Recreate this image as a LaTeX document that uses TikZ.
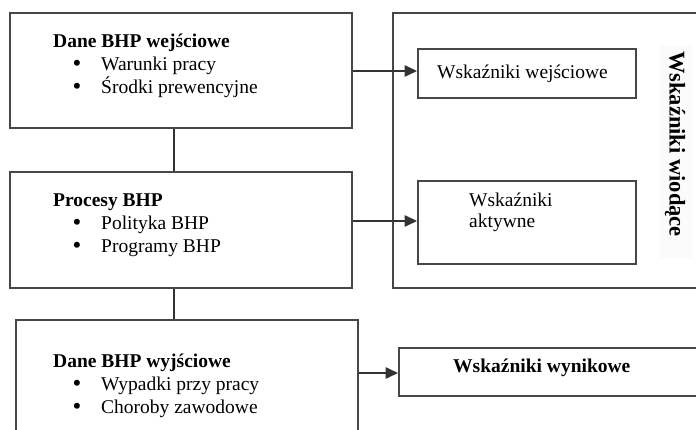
\documentclass[tikz,border=0pt]{standalone}
\usepackage{fontspec}
\setmainfont{Liberation Serif}
\usetikzlibrary{arrows.meta}
\tikzset{
  box/.style={draw=black!72, line width=1.6pt, anchor=north west, inner sep=0pt, minimum width=#1},
  txt/.style={anchor=base west, inner sep=0pt, font=\fontsize{19.5}{23}\selectfont},
  btxt/.style={txt, font=\fontsize{19.5}{23}\selectfont\bfseries},
  bul/.style={anchor=base, inner sep=0pt, font=\fontsize{25}{23}\selectfont},
  conn/.style={draw=black!80, line width=1.6pt},
  arr/.style={conn, -{Triangle[length=12.5pt,width=11.5pt]}}
}
\begin{document}
\begin{tikzpicture}[x=1pt,y=-1pt]
\useasboundingbox (0,0) rectangle (696,430);
\clip (0,0) rectangle (696,430);
% boxes
\node[box=342pt, minimum height=115pt] (in) at (9,12) {};
\node[box=342pt, minimum height=116pt] (proc) at (9,171) {};
\node[box=342pt, minimum height=130pt] (out) at (15,319) {};
\node[box=320pt, minimum height=275pt] (lead) at (392,12) {};
\node[box=218pt, minimum height=49pt] (inw) at (417,48) {};
\node[box=218pt, minimum height=83pt] (act) at (417,180) {};
\node[box=312pt, minimum height=48pt] (res) at (398,347) {};
% faint strip behind the vertical title
\fill[black!1.5] (660,45) rectangle (692,258);
\node[rotate=-90, inner sep=0pt, font=\fontsize{22.5}{26}\selectfont\bfseries] (leadlbl) at (675,144) {Wskaźniki wiodące};
% texts in box 1
\node[btxt] (t1) at (53,48) {Dane BHP wejściowe};
\node[bul] (b11) at (77,72) {•};
\node[txt] (t11) at (101,71) {Warunki pracy};
\node[bul] (b12) at (77,95) {•};
\node[txt] (t12) at (101,94) {Środki prewencyjne};
% texts in box 2
\node[btxt] (t2) at (53,207) {Procesy BHP};
\node[bul] (b21) at (77,231) {•};
\node[txt] (t21) at (101,230) {Polityka BHP};
\node[bul] (b22) at (77,254) {•};
\node[txt] (t22) at (101,253) {Programy BHP};
% texts in box 3
\node[btxt] (t3) at (53,367) {Dane BHP wyjściowe};
\node[bul] (b31) at (77,391) {•};
\node[txt] (t31) at (101,390) {Wypadki przy pracy};
\node[bul] (b32) at (77,414) {•};
\node[txt] (t32) at (101,413) {Choroby zawodowe};
% indicator texts
\node[txt] (tinw) at (437,79) {Wskaźniki wejściowe};
\node[txt] (tact1) at (469,207) {Wskaźniki};
\node[txt] (tact2) at (469,228) {aktywne};
\node[btxt] (tres) at (453,372) {Wskaźniki wynikowe};
% connectors
\coordinate (cx) at (174,0);
\draw[conn] (in.south -| cx) -- (proc.north -| cx);
\draw[conn] (proc.south -| cx) -- (out.north -| cx);
\coordinate (y1) at (0,71);
\coordinate (y2) at (0,221);
\coordinate (y3) at (0,373);
\draw[arr] (in.east |- y1) -- (inw.west |- y1);
\draw[arr] (proc.east |- y2) -- (act.west |- y2);
\draw[arr] (out.east |- y3) -- (res.west |- y3);
\end{tikzpicture}
\end{document}
